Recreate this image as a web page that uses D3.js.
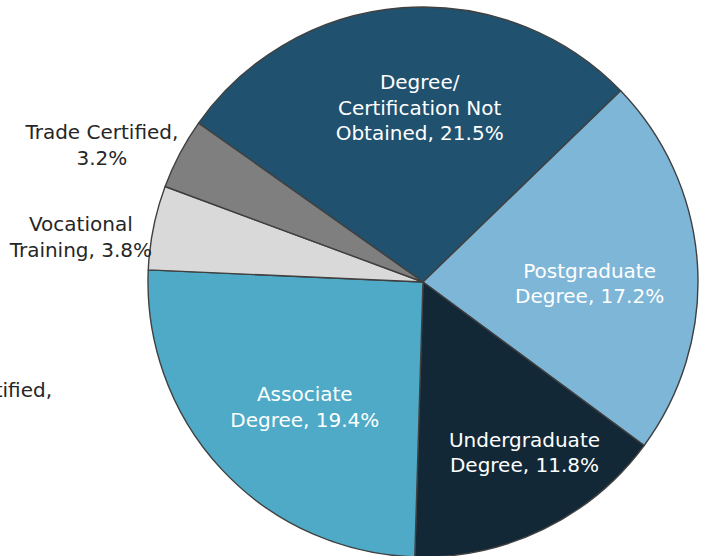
<!DOCTYPE html>
<html>
<head>
<meta charset="utf-8">
<script src="https://cdn.jsdelivr.net/npm/d3@7"></script>
<style>
  body { margin: 0; background: #fff; }
  svg { display: block; }
  text { font-family: "DejaVu Sans", sans-serif; }
</style>
</head>
<body>
<svg id="chart"></svg>
<script>
// slices, clockwise starting from the top-left
var categories = ["Degree/ Certification Not Obtained", "Postgraduate Degree", "Undergraduate Degree",
                  "Associate Degree", "Vocational Training", "Trade Certified"];
var shares = [21.5, 17.2, 11.8, 19.4, 3.8, 3.2];
// how each label is broken into lines
var labelLines = [
  ["Degree/", "Certification Not", "Obtained, 21.5%"],
  ["Postgraduate", "Degree, 17.2%"],
  ["Undergraduate", "Degree, 11.8%"],
  ["Associate", "Degree, 19.4%"],
  ["Vocational", "Training, 3.8%"],
  ["Trade Certified,", "3.2%"]
];
var colors = ["#20526f", "#7eb6d8", "#132836", "#4eaac6", "#d9d9d9", "#7f7f7f"];
// label of the neighbouring chart that is cut at the left edge
var clippedLabel = "Trade Certified,";

const W = 701, H = 556;
var cx = 423, cy = 282, R = 275;
var fs = 20, lh = 25.7;

var svg = d3.select("#chart").attr("width", W).attr("height", H);

var data = categories.map(function(c, i){ return {cat: c, value: shares[i], lines: labelLines[i], color: colors[i]}; });

var pie = d3.pie().sort(null).value(d => d.value)
  .startAngle(-54.7 * Math.PI / 180)
  .endAngle((360 - 54.7) * Math.PI / 180);
var arcs = pie(data);

var arc = d3.arc().innerRadius(0).outerRadius(R);
var inLabel = d3.arc().innerRadius(175).outerRadius(175);
var outLabel = d3.arc().innerRadius(345).outerRadius(345);

var g = svg.append("g").attr("transform", "translate(" + cx + "," + cy + ")");

g.selectAll("path")
  .data(arcs)
  .join("path")
  .attr("d", arc)
  .attr("fill", d => d.data.color)
  .attr("stroke", "#404040")
  .attr("stroke-width", 1.4)
  .attr("stroke-linejoin", "round");

// small nudges so labels sit where excel put them
var nudge = {
  "Degree/ Certification Not Obtained": [10, 0],
  "Postgraduate Degree": [-8, 13],
  "Undergraduate Degree": [25, 13],
  "Associate Degree": [10, 6],
  "Vocational Training": [-4, 23],
  "Trade Certified": [-16, 24]
};

var labels = g.selectAll("text.lbl")
  .data(arcs)
  .join("text")
  .attr("class", "lbl")
  .attr("text-anchor", "middle")
  .style("font-size", fs + "px")
  .attr("fill", d => d.data.value < 5 ? "#262626" : "#ffffff")
  .each(function(d){
    var p = (d.data.value < 5 ? outLabel : inLabel).centroid(d);
    var off = nudge[d.data.cat] || [0, 0];
    var x = p[0] + off[0], y = p[1] + off[1];
    var n = d.data.lines.length;
    d3.select(this).selectAll("tspan")
      .data(d.data.lines)
      .join("tspan")
      .attr("x", x)
      .attr("y", (t, i) => y + (i - (n - 1) / 2) * lh + 0.36 * fs)
      .text(t => t);
  });

svg.append("text")
  .attr("x", 52).attr("y", 397)
  .attr("text-anchor", "end")
  .style("font-size", fs + "px")
  .attr("fill", "#262626")
  .text(clippedLabel);
</script>
</body>
</html>
